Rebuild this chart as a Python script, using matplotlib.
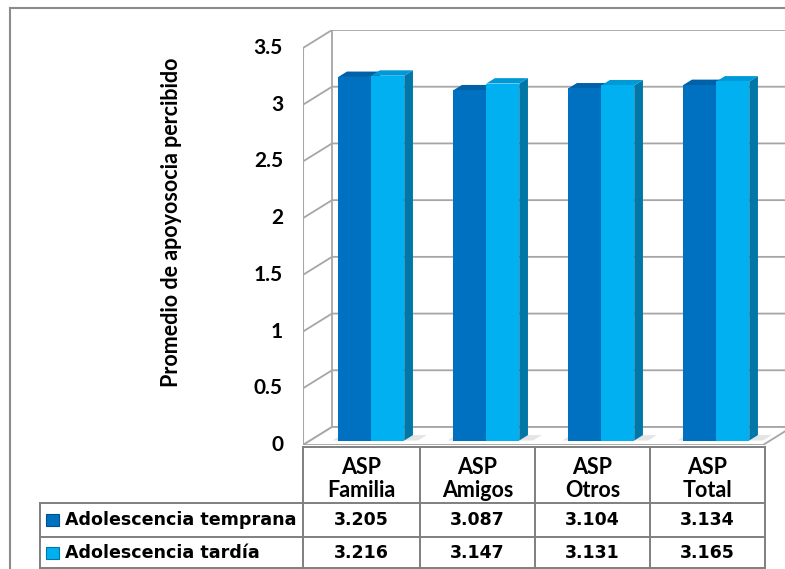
import matplotlib
matplotlib.use('Agg')
import matplotlib.pyplot as plt
from matplotlib.patches import Polygon
import numpy as np

# data
categories = ['ASP\nFamilia', 'ASP\nAmigos', 'ASP\nOtros', 'ASP\nTotal']
series_names = ['Adolescencia temprana', 'Adolescencia tardía']
temprana = [3.205, 3.087, 3.104, 3.134]
tardia = [3.216, 3.147, 3.131, 3.165]
yticks = [0, 0.5, 1, 1.5, 2, 2.5, 3, 3.5]

W, H = 785, 569
fig = plt.figure(figsize=(W / 100, H / 100), dpi=100)

# pixel layout of the plot box
px_left, px_right, px_zero, px_top = 303, 785, 445, 30
ppu_y = (445 - 48) / 3.5      # pixels per value unit
ppu_x = 115.0                 # pixels per category
ax = fig.add_axes([px_left / W, 1 - px_zero / H, (px_right - px_left) / W, (px_zero - px_top) / H])
ax.set_xlim(0, (px_right - px_left) / ppu_x)
ax.set_ylim(0, (px_zero - px_top) / ppu_y)
ax.axis('off')

DX = 29 / ppu_x
DY = 18 / ppu_y
grid_c = '#a6a6a6'
xmax = ax.get_xlim()[1]

# floor
floor = Polygon([(0, 0), (4, 0), (4 + DX, DY), (DX, DY)], closed=True,
                 facecolor='white', edgecolor=grid_c, lw=1.3, zorder=1)
ax.add_patch(floor)
# walls / grid
for v in yticks:
    ax.plot([0, DX, xmax], [v, v + DY, v + DY], color=grid_c, lw=1.3, zorder=0.5)
ax.plot([DX, DX], [DY, 3.5 + DY], color=grid_c, lw=1.3, zorder=0.5)
ax.plot([0, 0], [0, 3.5], color=grid_c, lw=1.5, zorder=2)

# bars
front_c = ['#0070c0', '#00b0f0']
top_c = ['#0060a8', '#0099d8']
side_c = ['#00508a', '#0077a6']
bar_w = 33 / ppu_x
start = 28 / ppu_x
f0, f1 = 0.25, 0.55
for i in range(len(categories)):
    # soft shadow on floor
    sx = i + start + f0 * DX
    sh = Polygon([(sx - 0.05, f0 * DY), (sx + 2 * bar_w + 0.12, f0 * DY),
                  (sx + 2 * bar_w + 0.12 + 0.3 * DX, f1 * DY), (sx - 0.05 + 0.3 * DX, f1 * DY)],
                 closed=True, facecolor='#d9d9d9', edgecolor='none', alpha=0.7, zorder=1.2)
    ax.add_patch(sh)
    for s, vals in enumerate([temprana, tardia]):
        v = vals[i]
        x0 = i + start + s * bar_w + f0 * DX
        y0 = f0 * DY
        x1 = x0 + bar_w
        ddx = (f1 - f0) * DX
        ddy = (f1 - f0) * DY
        side = Polygon([(x1, y0), (x1 + ddx, y0 + ddy), (x1 + ddx, y0 + ddy + v), (x1, y0 + v)],
                       closed=True, facecolor=side_c[s], edgecolor='none', zorder=3 + s)
        top = Polygon([(x0, y0 + v), (x1, y0 + v), (x1 + ddx, y0 + v + ddy), (x0 + ddx, y0 + v + ddy)],
                      closed=True, facecolor=top_c[s], edgecolor='none', zorder=3 + s)
        ax.add_patch(side)
        ax.add_patch(top)
        ax.bar(x0, v, width=bar_w, bottom=y0, align='edge', color=front_c[s],
               edgecolor='none', zorder=3.1 + s)

# overlay axes in pixel coordinates for labels and table
ov = fig.add_axes([0, 0, 1, 1], zorder=-1)
ov.set_xlim(0, W)
ov.set_ylim(H, 0)
ov.axis('off')

line_c = '#7f7f7f'
# outer border
ov.plot([10, W], [8, 8], color='#8c8c8c', lw=1.5)
ov.plot([10, 10], [8, H], color='#8c8c8c', lw=1.5)

# y tick labels
for v in yticks:
    ypx = px_zero - v * ppu_y
    ov.text(283, ypx, '%g' % v, ha='right', va='center', fontsize=15,
            fontweight='bold', family='Lato')
ov.text(172, 222, 'Promedio de apoyosocia percibido', rotation=90, ha='center',
        va='center', fontsize=15.5, fontweight='bold', family='Lato')

# data table
col_x = [303, 420, 535, 650, 765]
row_y = [447, 503, 537, 568]
ov.plot([303, 765], [447, 447], color=line_c, lw=1.4)
for y in row_y[1:]:
    ov.plot([40, 765], [y, y], color=line_c, lw=1.4)
ov.plot([40, 40], [503, 568], color=line_c, lw=1.4)
for x in col_x:
    ov.plot([x, x], [447, 568], color=line_c, lw=1.4)

for i, cat in enumerate(categories):
    cx = (col_x[i] + col_x[i + 1]) / 2
    ov.text(cx, 479, cat, ha='center', va='center', fontsize=15.5,
            fontweight='bold', family='Lato', linespacing=1.15)
    for r, vals in enumerate([temprana, tardia]):
        cy = (row_y[r + 1] + row_y[r + 2]) / 2
        ov.text(cx, cy, '%.3f' % vals[i], ha='center', va='center', fontsize=12.5,
                fontweight='bold', family='DejaVu Sans')

for r, name in enumerate(series_names):
    cy = (row_y[r + 1] + row_y[r + 2]) / 2
    ov.add_patch(Polygon([(46, cy - 6), (59, cy - 6), (59, cy + 6), (46, cy + 6)], closed=True,
                         facecolor=front_c[r], edgecolor=side_c[r], lw=0.8))
    ov.text(65, cy, name, ha='left', va='center', fontsize=12.6, fontweight='bold',
            family='DejaVu Sans')

fig.savefig('out.png', dpi=100)
